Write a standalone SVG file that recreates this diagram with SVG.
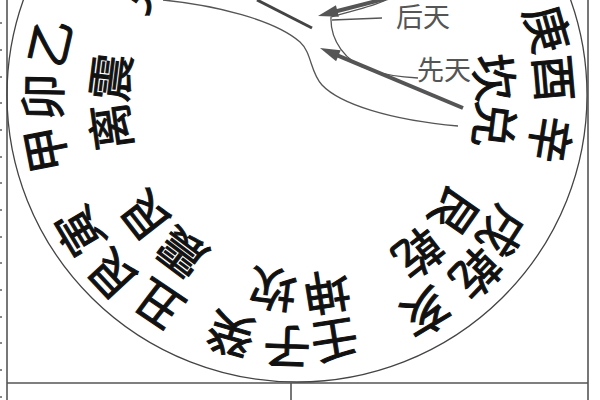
<svg xmlns="http://www.w3.org/2000/svg" width="600" height="400" viewBox="0 0 600 400">
<style>
.ch{font-family:"Noto Sans CJK SC","Noto Sans CJK TC",sans-serif;font-size:47px;fill:#111;stroke:#111;stroke-width:1;text-anchor:middle;dominant-baseline:central}
.lb{font-family:"Noto Sans CJK SC",sans-serif;font-size:27px;fill:#555;text-anchor:middle;dominant-baseline:central}
.frame{stroke:#555;stroke-width:1.6;fill:none}
.thin{stroke:#555;stroke-width:1.3;fill:none}
.thick{stroke:#555;stroke-width:4;fill:none}
.head{fill:#555}
.tick{fill:#888}
</style>
<rect width="600" height="400" fill="#fff"/>
<g id="frame">
<line class="frame" x1="7" y1="0" x2="7" y2="400"/>
<line class="frame" x1="588" y1="0" x2="588" y2="400"/>
<line class="frame" x1="7" y1="383" x2="588" y2="383"/>
<line class="frame" x1="291" y1="383" x2="291" y2="400"/>
<g class="tick">
<rect x="0" y="22" width="2" height="2"/><rect x="0" y="49" width="2" height="2"/><rect x="0" y="76" width="2" height="2"/><rect x="0" y="102" width="2" height="2"/><rect x="0" y="129" width="2" height="2"/><rect x="0" y="156" width="2" height="2"/><rect x="0" y="182" width="2" height="2"/><rect x="0" y="209" width="2" height="2"/><rect x="0" y="236" width="2" height="2"/><rect x="0" y="262" width="2" height="2"/><rect x="0" y="289" width="2" height="2"/><rect x="0" y="316" width="2" height="2"/><rect x="0" y="342" width="2" height="2"/><rect x="0" y="369" width="2" height="2"/><rect x="0" y="396" width="2" height="2"/>
</g>
</g>
<g id="dial">
<ellipse cx="297" cy="95" rx="290" ry="287" fill="none" stroke="#444" stroke-width="1.3"/>
</g>
<g id="outer-ring">
<g id="west"><text class="ch" x="550" y="28" transform="rotate(74 550 28)">庚</text><text class="ch" x="557" y="78" transform="rotate(85 557 78)">酉</text><text class="ch" x="553" y="140" transform="rotate(99 553 140)">辛</text></g>
<g id="northwest"><text class="ch" x="505" y="233" transform="rotate(123 505 233)">戌</text><text class="ch" x="478" y="275" transform="rotate(134 478 275)">乾</text><text class="ch" x="427" y="315" transform="rotate(149 427 315)">亥</text></g>
<g id="north"><text class="ch" x="335" y="343" transform="rotate(171 335 343)">壬</text><text class="ch" x="287" y="350" transform="rotate(182 287 350)">子</text><text class="ch" x="230" y="337" transform="rotate(196 230 337)">癸</text></g>
<g id="northeast"><text class="ch" x="157" y="307" transform="rotate(214 157 307)">丑</text><text class="ch" x="110" y="277" transform="rotate(227 110 277)">艮</text><text class="ch" x="77" y="233" transform="rotate(239 77 233)">寅</text></g>
<g id="east"><text class="ch" x="43" y="150" transform="rotate(259 43 150)">甲</text><text class="ch" x="40" y="97" transform="rotate(271 40 97)">卯</text><text class="ch" x="47" y="42" transform="rotate(283 47 42)">乙</text></g>
</g>
<g id="inner-ring">
<g id="west-gua"><text class="ch" x="497" y="77" transform="rotate(83 497 77)">坎</text><text class="ch" x="497" y="125" transform="rotate(97 497 125)">兑</text></g>
<g id="northwest-gua"><text class="ch" x="457" y="213" transform="rotate(125 457 213)">艮</text><text class="ch" x="420" y="255" transform="rotate(142 420 255)">乾</text></g>
<g id="north-gua"><text class="ch" x="327" y="295" transform="rotate(171 327 295)">坤</text><text class="ch" x="273" y="292" transform="rotate(187 273 292)">坎</text></g>
<g id="northeast-gua"><text class="ch" x="180" y="255" transform="rotate(217 180 255)">震</text><text class="ch" x="143" y="218" transform="rotate(232 143 218)">艮</text></g>
<g id="east-gua"><text class="ch" x="108" y="127" transform="rotate(262 108 127)">离</text><text class="ch" x="108" y="77" transform="rotate(277 108 77)">震</text></g>
<g id="southeast-gua"><text class="ch" x="140" y="-14" transform="rotate(305 140 -14)">兑</text></g>
</g>
<g id="labels">
<text id="houtian" class="lb" x="423" y="15">后天</text>
<text id="xiantian" class="lb" x="444" y="68">先天</text>
</g>
<g id="connectors">
<path class="thin" d="M163,0 C215,5 275,20 300,42 C312,53 310,72 322,85 C340,104 390,120 458,126"/>
<path class="thin" d="M386,0 C370,8 345,12 331,17 C330,40 345,62 370,70 C385,75 400,77 418,78"/>
<path class="thin" d="M332,20 L382,18"/>
<line x1="257" y1="0" x2="312" y2="28" stroke="#444" stroke-width="3"/>
<line class="thick" x1="392" y1="-3" x2="332.5" y2="12.3"/>
<polygon class="head" points="318,16 338.9,16.8 335.9,5.2"/>
<line class="thick" x1="463" y1="108" x2="333.8" y2="53.8"/>
<polygon class="head" points="320,48 336.1,61.2 340.7,50.2"/>
</g>
</svg>
